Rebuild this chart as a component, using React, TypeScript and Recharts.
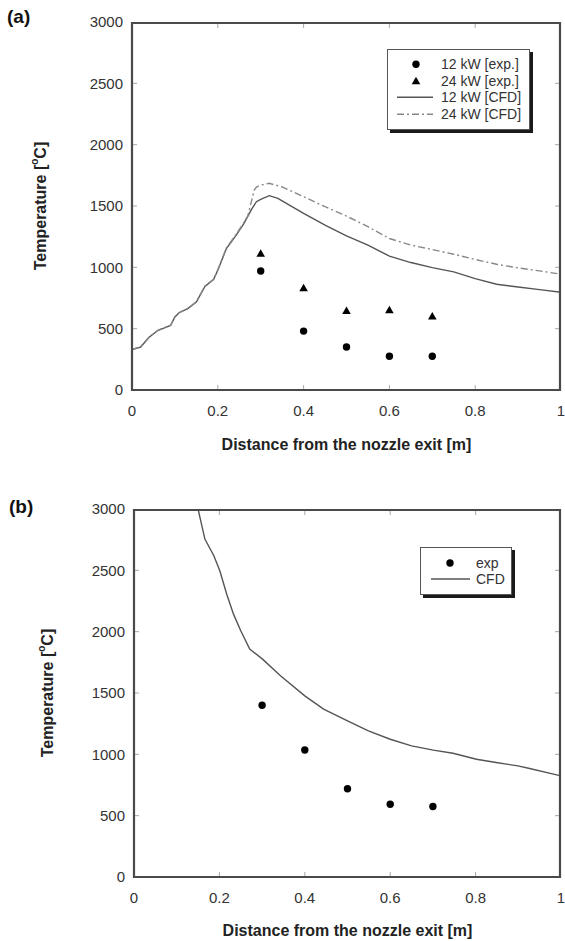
import React from 'react';
import { ComposedChart, Line, Scatter, XAxis, YAxis, Legend } from 'recharts';

const FONT = '"Liberation Sans", Arial, Helvetica, sans-serif';

// ---- panel (a) ----
const expDistA = [0.3, 0.4, 0.5, 0.6, 0.7];
const exp12kW = [970, 480, 350, 275, 275];
const exp24kW = [1110, 830, 645, 650, 600];

const cfdDist12 = [0, 0.02, 0.04, 0.06, 0.08, 0.09, 0.1, 0.11, 0.13, 0.15, 0.17, 0.19, 0.2, 0.22, 0.24, 0.26, 0.28, 0.29, 0.3, 0.32, 0.34, 0.4, 0.45, 0.5, 0.55, 0.6, 0.65, 0.7, 0.75, 0.8, 0.85, 0.9, 0.95, 1];
const cfd12kW = [330, 350, 430, 485, 513, 526, 595, 630, 663, 717, 845, 900, 976, 1153, 1249, 1353, 1481, 1535, 1554, 1584, 1563, 1440, 1344, 1257, 1181, 1091, 1039, 998, 963, 908, 862, 840, 818, 797];

const cfdDist24 = [0, 0.02, 0.04, 0.06, 0.08, 0.09, 0.1, 0.11, 0.13, 0.15, 0.17, 0.19, 0.2, 0.22, 0.24, 0.26, 0.27, 0.28, 0.285, 0.29, 0.3, 0.32, 0.35, 0.4, 0.45, 0.5, 0.55, 0.6, 0.65, 0.7, 0.75, 0.8, 0.85, 0.9, 0.95, 1];
const cfd24kW = [330, 352, 432, 487, 515, 528, 597, 632, 665, 720, 848, 903, 980, 1158, 1255, 1362, 1420, 1560, 1630, 1655, 1670, 1685, 1655, 1576, 1494, 1418, 1331, 1235, 1181, 1145, 1107, 1064, 1025, 995, 971, 944];

// ---- panel (b) ----
const expDistB = [0.3, 0.4, 0.5, 0.6, 0.7];
const expB = [1400, 1035, 720, 593, 575];

const cfdDistB = [0.15, 0.166, 0.187, 0.201, 0.217, 0.233, 0.25, 0.271, 0.301, 0.343, 0.4, 0.444, 0.5, 0.549, 0.6, 0.65, 0.701, 0.747, 0.802, 0.848, 0.899, 0.924, 1];
const cfdB = [3000, 2755, 2619, 2497, 2307, 2143, 2007, 1858, 1776, 1640, 1477, 1368, 1273, 1191, 1123, 1069, 1034, 1009, 960, 933, 906, 887, 824];

const xTicks = [0, 0.2, 0.4, 0.6, 0.8, 1];
const yTicks = [0, 500, 1000, 1500, 2000, 2500, 3000];

const legendA = ['12 kW [exp.]', '24 kW [exp.]', '12 kW [CFD]', '24 kW [CFD]'];
const legendB = ['exp', 'CFD'];

const toPts = (xs: number[], ys: number[]) => xs.map((x, i) => ({ x, y: ys[i] }));

const AXIS = '#4a4a4a';
const TICK = '#a8a8a8';
const W = 565;

// plot boxes (page coords) that the chart margins below produce
const boxA = { top: 22, left: 132, right: 4, height: 368, chartTop: 0, chartH: 470, xH: 80 };
const boxB = { top: 39, left: 134, right: 4, height: 368, chartTop: 470, chartH: 471, xH: 64 };

const Dot = (p: any) => <circle cx={p.cx} cy={p.cy} r={3.7} fill="#000" />;
const Tri = (p: any) => (
  <polygon points={`${p.cx},${p.cy - 4.5} ${p.cx - 4.3},${p.cy + 3} ${p.cx + 4.3},${p.cy + 3}`} fill="#000" />
);

type Kind = 'circle' | 'triangle' | 'solid' | 'dashdot';

function LegendBox({ labels, kinds, w, h, padTop, rowH, markX, lineX1, lineX2, textX }: any) {
  return (
    <div style={{
      width: w, height: h, boxSizing: 'border-box', border: '1.5px solid #555',
      boxShadow: '3px 3px 0 #1a1a1a', background: '#fff', position: 'relative',
      fontFamily: FONT, fontSize: 14, color: '#333',
    }}>
      {labels.map((label: string, i: number) => {
        const kind: Kind = kinds[i];
        const cy = rowH / 2;
        return (
          <div key={label} style={{ position: 'absolute', left: 0, top: padTop + i * rowH, width: '100%', height: rowH }}>
            <svg width={textX} height={rowH} style={{ position: 'absolute', left: 0, top: 0 }}>
              {kind === 'circle' && <Dot cx={markX} cy={cy} />}
              {kind === 'triangle' && <Tri cx={markX} cy={cy} />}
              {kind === 'solid' && <line x1={lineX1} x2={lineX2} y1={cy} y2={cy} stroke="#555" strokeWidth={1.5} />}
              {kind === 'dashdot' && <line x1={lineX1} x2={lineX2} y1={cy} y2={cy} stroke="#888" strokeWidth={1.5} strokeDasharray="7 3 2 3" />}
            </svg>
            <span style={{ position: 'absolute', left: textX, top: 0, lineHeight: `${rowH}px`, whiteSpace: 'nowrap' }}>{label}</span>
          </div>
        );
      })}
    </div>
  );
}

const yTitle = (dx: number) => (props: any) => {
  const vb = props.viewBox || {};
  const cx = (vb.x || 0) + dx;
  const cy = (vb.y || 0) + (vb.height || 0) / 2;
  return (
    <text x={cx} y={cy} transform={`rotate(-90 ${cx} ${cy})`} textAnchor="middle" dominantBaseline="central"
      fontFamily={FONT} fontSize={16} fontWeight="bold" fill="#222">
      Temperature [<tspan dy={-6} fontSize={10}>o</tspan><tspan dy={6}>C]</tspan>
    </text>
  );
};

// closed box with small inward ticks on all four sides
function FrameBox({ b }: any) {
  const x0 = b.left, x1 = W - b.right - 1, y0 = b.chartTop + b.top + 1, y1 = b.chartTop + b.top + b.height;
  const px = (v: number) => b.left + v * (W - b.right - b.left);
  const py = (v: number) => y1 - (v / 3000) * b.height;
  const edge = { stroke: AXIS, strokeWidth: 2.2, strokeLinecap: 'square' as const };
  return (
    <g>
      {xTicks.slice(1, -1).map((t) => (
        <g key={'x' + t}>
          <line x1={px(t)} x2={px(t)} y1={y1} y2={y1 - 5} stroke={TICK} />
          <line x1={px(t)} x2={px(t)} y1={y0} y2={y0 + 5} stroke={TICK} />
        </g>
      ))}
      {yTicks.slice(1, -1).map((t) => (
        <g key={'y' + t}>
          <line x1={x0} x2={x0 + 5} y1={py(t)} y2={py(t)} stroke={TICK} />
          <line x1={x1} x2={x1 - 5} y1={py(t)} y2={py(t)} stroke={TICK} />
        </g>
      ))}
      <path d={`M${x0},${y0} H${x1} V${y1} H${x0} Z`} fill="none" {...edge} />
    </g>
  );
}

function Axes({ b, titleOffset, yTitleX }: any) {
  const tickStyle = { fill: '#333', fontSize: 15, fontFamily: FONT };
  return [
    <XAxis key="x" dataKey="x" type="number" domain={[0, 1]} ticks={xTicks} height={b.xH}
      axisLine={false} tickLine={false} tickSize={-6} tickMargin={21} tick={tickStyle} allowDataOverflow
      label={{ value: 'Distance from the nozzle exit [m]', position: 'insideBottom', offset: titleOffset,
        fill: '#222', fontSize: 16, fontWeight: 'bold', fontFamily: FONT }} />,
    <YAxis key="y" type="number" domain={[0, 3000]} ticks={yTicks} width={b.left} allowDataOverflow
      axisLine={false} tickLine={false} tickSize={-6} tickMargin={15} tick={tickStyle}
      label={{ content: yTitle(yTitleX) }} />,
  ];
}

export default function App() {
  return (
    <div style={{ position: 'absolute', left: 0, top: 0, width: W, height: 941, background: '#fff', overflow: 'hidden' }}>
      <div style={{ position: 'absolute', left: 7, top: 6, fontFamily: FONT, fontWeight: 'bold', fontSize: 19, color: '#111' }}>(a)</div>
      <div style={{ position: 'absolute', left: 9, top: 496, fontFamily: FONT, fontWeight: 'bold', fontSize: 19, color: '#111' }}>(b)</div>

      <div style={{ position: 'absolute', left: 0, top: boxA.chartTop }}>
        <ComposedChart width={W} height={boxA.chartH} margin={{ top: boxA.top, right: boxA.right, bottom: 0, left: 0 }}>
          {Axes({ b: boxA, titleOffset: 20, yTitleX: 40 })}
          <Line data={toPts(cfdDist12, cfd12kW)} dataKey="y" name="12 kW [CFD]" type="linear"
            stroke="#555" strokeWidth={1.4} dot={false} isAnimationActive={false} />
          <Line data={toPts(cfdDist24, cfd24kW)} dataKey="y" name="24 kW [CFD]" type="linear"
            stroke="#888" strokeWidth={1.4} strokeDasharray="7 3 2 3" dot={false} isAnimationActive={false} />
          <Scatter data={toPts(expDistA, exp12kW)} dataKey="y" name="12 kW [exp.]" shape={Dot} isAnimationActive={false} />
          <Scatter data={toPts(expDistA, exp24kW)} dataKey="y" name="24 kW [exp.]" shape={Tri} isAnimationActive={false} />
          <Legend layout="vertical" align="center" verticalAlign="middle"
            wrapperStyle={{ left: 387, top: 49, width: 143, height: 81 }}
            content={() => (
              <LegendBox labels={legendA} kinds={['circle', 'triangle', 'solid', 'dashdot']} w={143} h={81}
                padTop={6} rowH={16.5} markX={28} lineX1={9} lineX2={45} textX={53} />
            )} />
        </ComposedChart>
      </div>

      <div style={{ position: 'absolute', left: 0, top: boxB.chartTop }}>
        <ComposedChart width={W} height={boxB.chartH} margin={{ top: boxB.top, right: boxB.right, bottom: 0, left: 0 }}>
          {Axes({ b: boxB, titleOffset: 5, yTitleX: 47 })}
          <Line data={toPts(cfdDistB, cfdB)} dataKey="y" name="CFD" type="linear"
            stroke="#555" strokeWidth={1.4} dot={false} isAnimationActive={false} />
          <Scatter data={toPts(expDistB, expB)} dataKey="y" name="exp" shape={Dot} isAnimationActive={false} />
          <Legend layout="vertical" align="center" verticalAlign="middle"
            wrapperStyle={{ left: 420, top: 77, width: 92, height: 48 }}
            content={() => (
              <LegendBox labels={legendB} kinds={['circle', 'solid']} w={92} h={48}
                padTop={7} rowH={16} markX={29} lineX1={10} lineX2={49} textX={55} />
            )} />
        </ComposedChart>
      </div>

      <svg width={W} height={941} style={{ position: 'absolute', left: 0, top: 0, pointerEvents: 'none' }}>
        <FrameBox b={boxA} />
        <FrameBox b={boxB} />
      </svg>
    </div>
  );
}
